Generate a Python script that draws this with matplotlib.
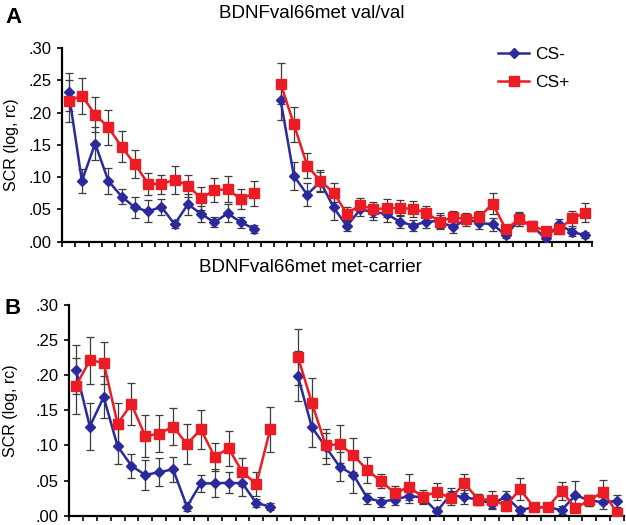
import numpy as np
import matplotlib
matplotlib.use("Agg")
import matplotlib.pyplot as plt
from matplotlib.ticker import FuncFormatter

plt.rcParams['font.family'] = ['Liberation Sans', 'DejaVu Sans']

# Panel A: BDNFval66met val/val  (first block 15 trials, second block 24 trials)
a1_minus = [0.232, 0.094, 0.152, 0.094, 0.070, 0.053, 0.047, 0.054, 0.027, 0.058, 0.043, 0.030, 0.044, 0.030, 0.020]
a1_minus_err = [0.030, 0.019, 0.026, 0.020, 0.012, 0.016, 0.017, 0.012, 0.006, 0.016, 0.012, 0.008, 0.014, 0.009, 0.006]
a1_plus = [0.218, 0.226, 0.197, 0.177, 0.147, 0.120, 0.090, 0.089, 0.096, 0.087, 0.067, 0.080, 0.081, 0.066, 0.075]
a1_plus_err = [0.032, 0.028, 0.027, 0.027, 0.024, 0.022, 0.017, 0.015, 0.022, 0.017, 0.018, 0.018, 0.020, 0.016, 0.019]

a2_minus = [0.219, 0.102, 0.073, 0.093, 0.053, 0.024, 0.050, 0.046, 0.043, 0.031, 0.025, 0.031,
            0.032, 0.022, 0.035, 0.029, 0.027, 0.010, 0.034, 0.024, 0.005, 0.027, 0.015, 0.010]
a2_minus_err = [0.030, 0.022, 0.018, 0.015, 0.020, 0.008, 0.010, 0.012, 0.012, 0.010, 0.008, 0.010,
                0.012, 0.008, 0.008, 0.010, 0.010, 0.005, 0.010, 0.008, 0.004, 0.008, 0.006, 0.005]
a2_plus = [0.245, 0.182, 0.118, 0.094, 0.076, 0.043, 0.057, 0.050, 0.052, 0.052, 0.051, 0.045,
           0.031, 0.038, 0.035, 0.038, 0.059, 0.019, 0.035, 0.024, 0.017, 0.019, 0.036, 0.045]
a2_plus_err = [0.031, 0.027, 0.020, 0.017, 0.015, 0.010, 0.010, 0.012, 0.014, 0.012, 0.012, 0.011,
               0.010, 0.010, 0.010, 0.010, 0.016, 0.006, 0.011, 0.008, 0.006, 0.007, 0.012, 0.015]

# Panel B: BDNFval66met met-carrier
b1_minus = [0.208, 0.127, 0.169, 0.099, 0.071, 0.058, 0.062, 0.066, 0.013, 0.046, 0.046, 0.047, 0.046, 0.018, 0.013]
b1_minus_err = [0.035, 0.034, 0.030, 0.025, 0.017, 0.022, 0.020, 0.018, 0.006, 0.012, 0.020, 0.015, 0.018, 0.006, 0.005]
b1_plus = [0.185, 0.221, 0.218, 0.131, 0.159, 0.113, 0.117, 0.127, 0.102, 0.123, 0.084, 0.096, 0.062, 0.045, 0.123]
b1_plus_err = [0.040, 0.034, 0.030, 0.030, 0.030, 0.030, 0.026, 0.027, 0.028, 0.028, 0.020, 0.025, 0.020, 0.017, 0.032]

b2_minus = [0.199, 0.126, 0.098, 0.070, 0.058, 0.025, 0.020, 0.023, 0.028, 0.026, 0.006, 0.030,
            0.026, 0.023, 0.017, 0.027, 0.008, 0.012, 0.012, 0.008, 0.029, 0.022, 0.019, 0.021]
b2_minus_err = [0.035, 0.028, 0.025, 0.020, 0.025, 0.008, 0.007, 0.008, 0.010, 0.008, 0.005, 0.010,
                0.010, 0.008, 0.008, 0.008, 0.005, 0.005, 0.005, 0.006, 0.020, 0.008, 0.010, 0.008]
b2_plus = [0.226, 0.161, 0.100, 0.102, 0.086, 0.065, 0.049, 0.032, 0.041, 0.027, 0.034, 0.025,
           0.046, 0.023, 0.023, 0.014, 0.038, 0.012, 0.012, 0.035, 0.011, 0.022, 0.034, 0.004]
b2_plus_err = [0.040, 0.035, 0.018, 0.027, 0.024, 0.018, 0.010, 0.010, 0.018, 0.010, 0.012, 0.010,
               0.014, 0.008, 0.012, 0.007, 0.016, 0.005, 0.005, 0.013, 0.006, 0.008, 0.017, 0.003]

blue = '#2a2a9c'
red = '#ec1c24'
W, H = 626, 525


def draw_panel(ax, blocks):
    # blocks: list of (x positions, cs-, cs- err, cs+, cs+ err)
    for x, ym, em, yp, ep in blocks:
        ax.errorbar(x, ym, yerr=em, fmt='none', ecolor='#3c3c3c', elinewidth=0.9,
                    capsize=3, capthick=0.9, zorder=2)
        ax.errorbar(x, yp, yerr=ep, fmt='none', ecolor='#3c3c3c', elinewidth=0.9,
                    capsize=3, capthick=0.9, zorder=2)
    for x, ym, em, yp, ep in blocks:
        ax.plot(x, ym, color=blue, lw=1.8, marker='D', ms=5.2, zorder=3, label='CS-')
        ax.plot(x, yp, color=red, lw=1.8, marker='s', ms=7.5, zorder=4, label='CS+')
    ax.set_xlim(0, 40)
    ax.set_ylim(0, 0.30)
    ax.set_xticks(np.arange(0, 41))
    ax.set_xticklabels([])
    ax.set_yticks(np.arange(0, 0.301, 0.05))
    ax.yaxis.set_major_formatter(FuncFormatter(lambda v, p: f"{v:.2f}"[1:]))
    ax.tick_params(direction='out', length=3.8, width=1.2, labelsize=12)
    for s in ['top', 'right']:
        ax.spines[s].set_visible(False)
    for s in ['left', 'bottom']:
        ax.spines[s].set_linewidth(1.6)
    ax.set_ylabel('SCR (log, rc)', fontsize=11.5)


x1 = np.arange(15) + 0.5
x2 = np.arange(16, 40) + 0.5

fig = plt.figure(figsize=(W / 100, H / 100), dpi=100)

axA = fig.add_axes([62 / W, 1 - 241.7 / H, (592 - 62) / W, (241.7 - 48) / H])
draw_panel(axA, [(x1, a1_minus, a1_minus_err, a1_plus, a1_plus_err),
                 (x2, a2_minus, a2_minus_err, a2_plus, a2_plus_err)])
axA.yaxis.set_label_coords((19 - 62) / (592 - 62), 0.5)

axB = fig.add_axes([69 / W, 1 - 515.7 / H, (624 - 69) / W, (515.7 - 305) / H])
draw_panel(axB, [(x1, b1_minus, b1_minus_err, b1_plus, b1_plus_err),
                 (x2, b2_minus, b2_minus_err, b2_plus, b2_plus_err)])
axB.yaxis.set_label_coords((18 - 69) / (624 - 69), 0.5)

handles, labels = axA.get_legend_handles_labels()
fig.legend(handles[:2], labels[:2], loc='upper left', bbox_to_anchor=(498 / W, 1 - 47 / H),
           frameon=False, fontsize=12.5, handlelength=1.8, handletextpad=0.35,
           labelspacing=0.75, borderpad=0, borderaxespad=0)

fig.text(312 / W, 1 - 13 / H, 'BDNFval66met val/val', ha='center', va='center', fontsize=13.5)
fig.text(310 / W, 1 - 268 / H, 'BDNFval66met met-carrier', ha='center', va='center', fontsize=13.5)
fig.text(5 / W, 1 - 17.5 / H, 'A', ha='left', va='center', fontsize=16, fontweight='bold')
fig.text(5 / W, 1 - 309 / H, 'B', ha='left', va='center', fontsize=16, fontweight='bold')

fig.savefig('out.png', dpi=100)
